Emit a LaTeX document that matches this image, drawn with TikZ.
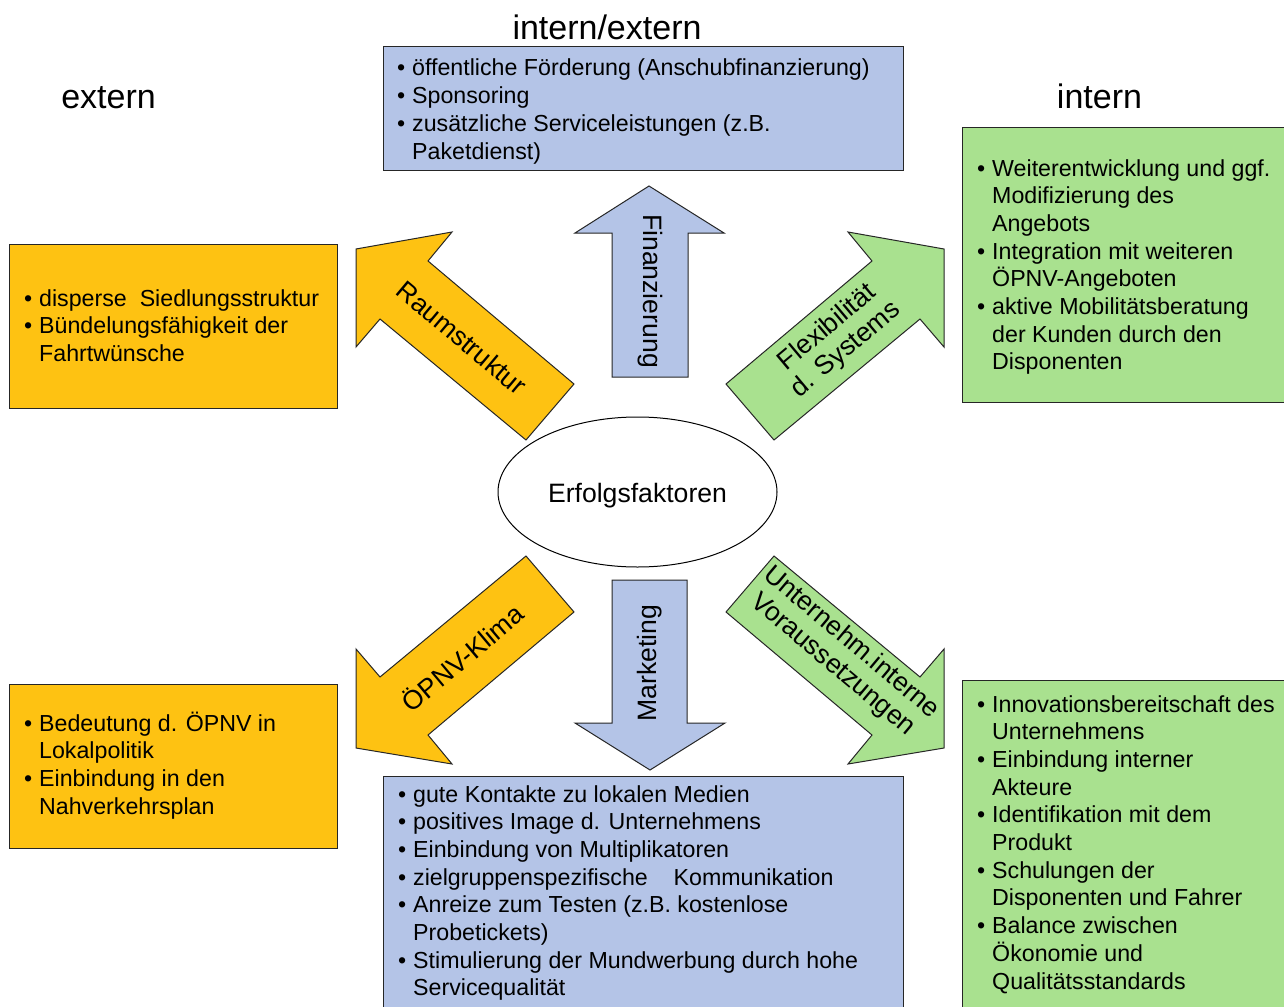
\documentclass[tikz,border=0pt]{standalone}
\usepackage{fontspec}
\setmainfont{Liberation Sans}
\usetikzlibrary{shapes.geometric}
\definecolor{orng}{RGB}{254,194,18}
\definecolor{blu}{RGB}{180,196,231}
\definecolor{grn}{RGB}{169,225,143}
\newcommand\li[1]{\hbox{\makebox[15pt][l]{•}#1}}
\newcommand\lc[1]{\hbox{\hspace*{15pt}#1}}
\begin{document}
\begin{tikzpicture}[x=1pt,y=-1pt,
  box/.style={draw=black!85, line width=1pt, anchor=north west, inner sep=0pt, outer sep=0pt},
  arr/.style={draw=black!85, line width=1pt, line join=miter},
  lst/.style={anchor=base west, inner sep=0pt, font=\fontsize{23.2}{27.7}\selectfont},
  lbl/.style={inner sep=0pt, align=center, font=\fontsize{26.6}{29}\selectfont},
  ttl/.style={anchor=base, inner sep=0pt, font=\fontsize{34}{40}\selectfont}]
\clip (0,0) rectangle (1284,1006);
\fill[white] (0,0) rectangle (1284,1006);

% titles
\node[ttl] (t1) at (607,40) {intern/extern};
\node[ttl] (t2) at (108.5,109) {extern};
\node[ttl] (t3) at (1099.5,109) {intern};

% boxes
\node[box, fill=blu, minimum width=520pt, minimum height=123pt] (bTop) at (383,47) {};
\node[box, fill=orng, minimum width=328pt, minimum height=164pt] (bLT) at (9,244) {};
\node[box, fill=grn, minimum width=340pt, minimum height=274pt] (bRT) at (962,128) {};
\node[box, fill=orng, minimum width=328pt, minimum height=164pt] (bLB) at (9,684) {};
\node[box, fill=blu, minimum width=520pt, minimum height=250pt] (bBot) at (383,776) {};
\node[box, fill=grn, minimum width=340pt, minimum height=350pt] (bRB) at (962,680) {};

% box texts
\node[lst] (xTop) at (397,76) {\vtop{%
  \li{öffentliche Förderung (Anschubfinanzierung)}
  \li{Sponsoring}
  \li{zusätzliche Serviceleistungen (z.B.}
  \lc{Paketdienst)}}};
\node[lst] (xLT) at (24,306) {\vtop{%
  \li{disperse\ \ Siedlungsstruktur}
  \li{Bündelungsfähigkeit der}
  \lc{Fahrtwünsche}}};
\node[lst] (xRT) at (977,176) {\vtop{%
  \li{Weiterentwicklung und ggf.}
  \lc{Modifizierung des}
  \lc{Angebots}
  \li{Integration mit weiteren}
  \lc{ÖPNV-Angeboten}
  \li{aktive Mobilitätsberatung}
  \lc{der Kunden durch den}
  \lc{Disponenten}}};
\node[lst] (xLB) at (24,731) {\vtop{%
  \li{Bedeutung d. ÖPNV in}
  \lc{Lokalpolitik}
  \li{Einbindung in den}
  \lc{Nahverkehrsplan}}};
\node[lst] (xBot) at (398,802) {\vtop{%
  \li{gute Kontakte zu lokalen Medien}
  \li{positives Image d. Unternehmens}
  \li{Einbindung von Multiplikatoren}
  \li{zielgruppenspezifische\ \ \ \ Kommunikation}
  \li{Anreize zum Testen (z.B. kostenlose}
  \lc{Probetickets)}
  \li{Stimulierung der Mundwerbung durch hohe}
  \lc{Servicequalität}}};
\node[lst] (xRB) at (977,712) {\vtop{%
  \li{Innovationsbereitschaft des}
  \lc{Unternehmens}
  \li{Einbindung interner}
  \lc{Akteure}
  \li{Identifikation mit dem}
  \lc{Produkt}
  \li{Schulungen der}
  \lc{Disponenten und Fahrer}
  \li{Balance zwischen}
  \lc{Ökonomie und}
  \lc{Qualitätsstandards}}};

% arrows
\draw[arr, fill=blu] (649,186) -- (724,233) -- (688,233) -- (688,377) -- (612,377) -- (612,233) -- (575,233) -- cycle;
\draw[arr, fill=blu] (612,580) -- (687,580) -- (687,723) -- (725,723) -- (650,770) -- (575,723) -- (612,723) -- cycle;
\draw[arr, fill=orng] (356,249) -- (452,232) -- (428,261) -- (574,384) -- (526,440) -- (380,319) -- (356,347) -- cycle;
\draw[arr, fill=grn] (944,249) -- (848,232) -- (872,261) -- (726,384) -- (774,440) -- (920,319) -- (944,347) -- cycle;
\draw[arr, fill=orng] (356,748) -- (452,764) -- (428,735) -- (574,612) -- (526,556) -- (380,677) -- (356,649) -- cycle;
\draw[arr, fill=grn] (944,748) -- (848,764) -- (872,735) -- (726,612) -- (774,556) -- (920,677) -- (944,649) -- cycle;

% arrow labels
\node[lbl, rotate=-90] (lFin) at (650,291) {Finanzierung};
\node[lbl, rotate=90] (lMar) at (650,663) {Marketing};
\node[lbl, rotate=-40] (lRaum) at (462,338) {Raumstruktur};
\node[lbl, rotate=40] (lFlex) at (837,339) {Flexibilität\\d. Systems};
\node[lbl, rotate=40] (lKli) at (462,657) {ÖPNV-Klima};
\node[lbl, rotate=-40] (lUnt) at (842,654) {Unternehm.interne\\Voraussetzungen};

% centre
\node[draw=black, line width=1pt, ellipse, minimum width=279pt, minimum height=150pt, inner sep=0pt] (ef) at (637.5,492) {};
\node[anchor=base, inner sep=0pt, font=\fontsize{26.6}{30}\selectfont] (efl) at (637.5,502) {Erfolgsfaktoren};
\end{tikzpicture}
\end{document}
